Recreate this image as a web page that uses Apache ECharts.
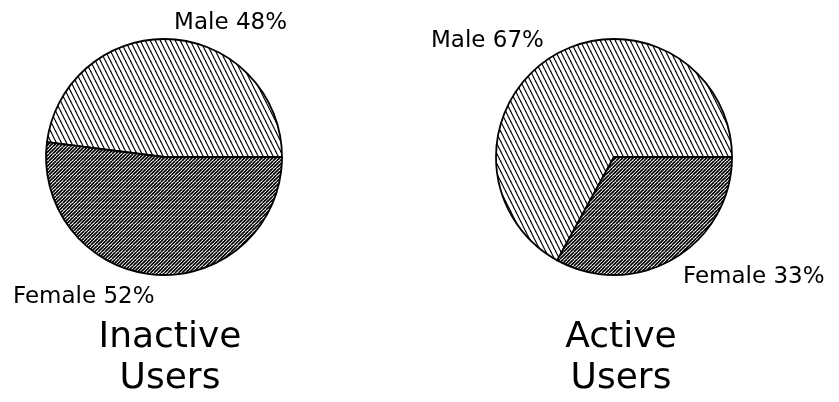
<!DOCTYPE html>
<html>
<head>
<meta charset="utf-8">
<script src="https://cdn.jsdelivr.net/npm/echarts@6/dist/echarts.min.js"></script>
<style>
  html, body { margin: 0; padding: 0; background: #fff; }
  #chart { width: 839px; height: 402px; }
</style>
</head>
<body>
<div id="chart"></div>
<script>
// data
const categories = ['Male', 'Female']
const inactiveValues = [48, 52]
const activeValues = [67, 33]
const groupTitles = ['Inactive\nUsers', 'Active\nUsers']

// hatch fills
function hatch (w, h, lines, lw) {
  const c = document.createElement('canvas')
  c.width = w
  c.height = h
  const ctx = c.getContext('2d')
  ctx.fillStyle = '#fff'
  ctx.fillRect(0, 0, w, h)
  ctx.strokeStyle = '#000'
  ctx.lineWidth = lw
  lines.forEach(l => {
    ctx.beginPath()
    ctx.moveTo(l[0], l[1])
    ctx.lineTo(l[2], l[3])
    ctx.stroke()
  })
  return { image: c, repeat: 'repeat' }
}
// male: "\" steep lines
const maleFill = hatch(5, 10, [[-5, 0, 0, 10], [0, 0, 5, 10], [5, 0, 10, 10]], 1.2)
// female: "/" dense lines
const femaleFill = hatch(7, 7, [[0, 0, -7, 7], [3.5, 0, -3.5, 7], [7, 0, 0, 7], [10.5, 0, 3.5, 7], [14, 0, 7, 7]], 1.6)
const fills = [maleFill, femaleFill]

// label anchor points (left/right edge, middle)
const labelPos = [
  [{ x: 287, y: 23, align: 'right' }, { x: 13, y: 297, align: 'left' }],
  [{ x: 431, y: 41, align: 'left' }, { x: 683, y: 277, align: 'left' }]
]

const labelFont = { fontFamily: 'DejaVu Sans', fontSize: 23, color: '#000' }

function pie (idx, values, center) {
  return {
    type: 'pie',
    center: center,
    radius: 118,
    startAngle: 0,
    clockwise: false,
    silent: true,
    animation: false,
    itemStyle: { borderColor: '#000', borderWidth: 1.8 },
    label: Object.assign({ show: true, formatter: '{b} {c}%', overflow: 'none' }, labelFont),
    labelLine: { show: false },
    labelLayout: params => {
      const p = labelPos[idx][params.dataIndex]
      return { x: p.x, y: p.y, align: p.align, verticalAlign: 'middle' }
    },
    data: categories.map((name, i) => ({
      name: name,
      value: values[i],
      itemStyle: { color: fills[i] }
    }))
  }
}

const myChart = echarts.init(document.getElementById('chart'))
myChart.setOption({
  backgroundColor: '#fff',
  animation: false,
  title: [
    { text: groupTitles[0], left: 165, top: 312, textAlign: 'center' },
    { text: groupTitles[1], left: 616, top: 312, textAlign: 'center' }
  ].map(t => Object.assign(t, {
    textStyle: { fontFamily: 'DejaVu Sans', fontSize: 36, fontWeight: 'normal', color: '#000', lineHeight: 41 }
  })),
  series: [
    pie(0, inactiveValues, [164, 157]),
    pie(1, activeValues, [614, 157])
  ]
})
</script>
</body>
</html>
